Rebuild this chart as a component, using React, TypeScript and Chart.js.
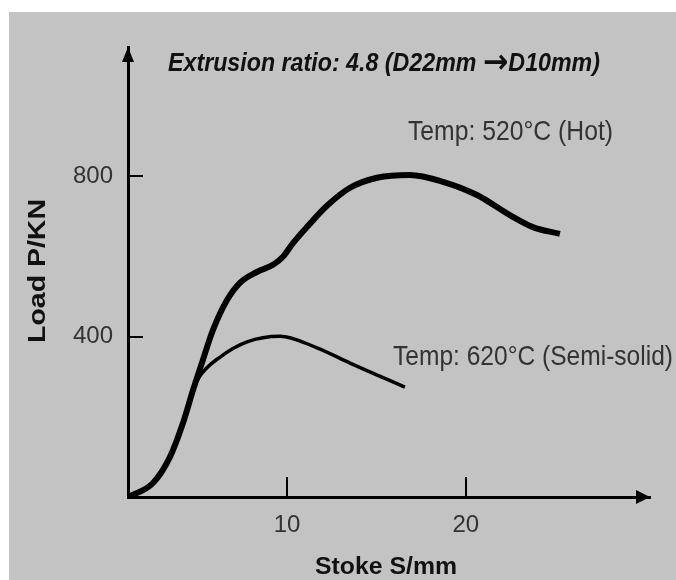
import React, { useEffect, useRef } from "react";
import { Chart, registerables } from "chart.js";

Chart.register(...registerables);

// ---- data ----
const strokeHot = [1.1, 2.5, 3.45, 4.18, 4.74, 5.29, 5.85, 6.64, 7.36, 8.31, 9.21, 9.77, 10.33, 11.11, 12.23, 13.52, 15.03, 16.87, 18.72, 20.62, 22.46, 23.75, 25.26];
const loadHot = [0, 35, 100, 185, 267, 342, 416, 491, 534, 561, 579, 599, 633, 673, 726, 771, 796, 803, 786, 753, 703, 673, 656];
const strokeSemi = [1.1, 2.5, 3.45, 4.18, 4.74, 5.13, 6.25, 7.76, 9.6, 11.67, 13.52, 16.59];
const loadSemi = [0, 35, 100, 185, 267, 302, 349, 387, 401, 372, 334, 274];
const xTicks = [10, 20];
const yTicks = [400, 800];
const xRange = [1.1, 30.3];
const yRange = [0, 1122];

const titleParts = ["Extrusion ratio: 4.8 (D22mm ", "\u2192", "D10mm)"];
const hotLabel = "Temp: 520\u00B0C (Hot)";
const semiLabel = "Temp: 620\u00B0C (Semi-solid)";
const xTitle = "Stoke S/mm";
const yTitle = "Load P/KN";

const SANS = '"Liberation Sans", Arial, sans-serif';

function fitText(
  ctx: CanvasRenderingContext2D,
  text: string,
  font: string,
  x: number,
  baseline: number,
  width: number,
  color: string,
  rotate = false
) {
  ctx.save();
  ctx.font = font;
  const w = ctx.measureText(text).width;
  ctx.translate(x, baseline);
  if (rotate) ctx.rotate(-Math.PI / 2);
  ctx.scale(width / w, 1);
  ctx.fillStyle = color;
  ctx.textAlign = "left";
  ctx.textBaseline = "alphabetic";
  ctx.fillText(text, 0, 0);
  ctx.restore();
}

function fitParts(
  ctx: CanvasRenderingContext2D,
  parts: string[],
  fonts: string[],
  dy: number[],
  x: number,
  baseline: number,
  width: number,
  color: string
) {
  ctx.save();
  const widths = parts.map((p, i) => {
    ctx.font = fonts[i];
    return ctx.measureText(p).width;
  });
  const total = widths.reduce((a, b) => a + b, 0);
  ctx.translate(x, baseline);
  ctx.scale(width / total, 1);
  ctx.fillStyle = color;
  ctx.textAlign = "left";
  ctx.textBaseline = "alphabetic";
  let cx = 0;
  parts.forEach((p, i) => {
    ctx.font = fonts[i];
    ctx.fillText(p, cx, dy[i]);
    cx += widths[i];
  });
  ctx.restore();
}

const decor = {
  id: "decor",
  beforeDraw(chart: any) {
    const ctx = chart.ctx as CanvasRenderingContext2D;
    ctx.save();
    ctx.fillStyle = "#ffffff";
    ctx.fillRect(0, 0, chart.width, chart.height);
    ctx.fillStyle = "#c3c3c3";
    ctx.fillRect(9, 12, chart.width - 9, chart.height - 12);
    ctx.restore();
  },
  afterDraw(chart: any) {
    const ctx = chart.ctx as CanvasRenderingContext2D;
    const ca = chart.chartArea;
    const xs = chart.scales.x;
    const ys = chart.scales.y;
    ctx.save();
    ctx.strokeStyle = "#000";
    ctx.lineWidth = 2;
    xTicks.forEach((v) => {
      const px = Math.round(xs.getPixelForValue(v));
      ctx.beginPath();
      ctx.moveTo(px, ca.bottom);
      ctx.lineTo(px, ca.bottom - 20);
      ctx.stroke();
    });
    yTicks.forEach((v) => {
      const py = Math.round(ys.getPixelForValue(v));
      ctx.beginPath();
      ctx.moveTo(ca.left, py);
      ctx.lineTo(ca.left + 15, py);
      ctx.stroke();
    });
    ctx.fillStyle = "#000";
    ctx.beginPath();
    ctx.moveTo(ca.left, ca.top);
    ctx.lineTo(ca.left - 6, ca.top + 15);
    ctx.lineTo(ca.left + 6, ca.top + 15);
    ctx.closePath();
    ctx.fill();
    ctx.beginPath();
    ctx.moveTo(ca.right, ca.bottom);
    ctx.lineTo(ca.right - 14, ca.bottom - 7);
    ctx.lineTo(ca.right - 14, ca.bottom + 7);
    ctx.closePath();
    ctx.fill();
    ctx.restore();

    fitParts(
      ctx,
      titleParts,
      ["italic bold 26px " + SANS, 'bold 34px "DejaVu Sans", sans-serif', "italic bold 26px " + SANS],
      [0, 2, 0],
      168,
      71,
      432,
      "#111"
    );
    fitText(ctx, hotLabel, "28px " + SANS, 408, 140, 205, "#333");
    fitText(ctx, semiLabel, "28px " + SANS, 393, 365, 280, "#333");
    fitText(ctx, xTitle, "bold 24px " + SANS, 315, 574, 142, "#111");
    fitText(ctx, yTitle, "bold 24px " + SANS, 45, 343, 144, "#111", true);
  },
};

export default function App() {
  const ref = useRef<HTMLCanvasElement | null>(null);
  useEffect(() => {
    if (!ref.current) return;
    const chart = new Chart(ref.current, {
      type: "line",
      data: {
        datasets: [
          {
            label: "Semi-solid",
            data: strokeSemi.map((x, i) => ({ x, y: loadSemi[i] })),
            borderColor: "#000",
            borderWidth: 3.5,
            pointRadius: 0,
            cubicInterpolationMode: "monotone",
            borderCapStyle: "butt",
            fill: false,
          },
          {
            label: "Hot",
            data: strokeHot.map((x, i) => ({ x, y: loadHot[i] })),
            borderColor: "#000",
            borderWidth: 6,
            pointRadius: 0,
            cubicInterpolationMode: "monotone",
            borderCapStyle: "butt",
            fill: false,
          },
        ],
      },
      options: {
        animation: false,
        responsive: false,
        devicePixelRatio: 1,
        layout: { padding: { left: 0, top: 47, right: 26, bottom: 0 } },
        plugins: { legend: { display: false }, tooltip: { enabled: false } },
        scales: {
          x: {
            type: "linear",
            min: xRange[0],
            max: xRange[1],
            grid: { display: false, drawTicks: false },
            border: { display: true, color: "#000", width: 3 },
            ticks: { font: { family: SANS, size: 24 }, color: "#333", padding: 14, autoSkip: false, maxRotation: 0 },
            afterBuildTicks: (s: any) => {
              s.ticks = xTicks.map((v) => ({ value: v }));
            },
            afterFit: (s: any) => {
              s.height = 83;
            },
          },
          y: {
            type: "linear",
            min: yRange[0],
            max: yRange[1],
            grid: { display: false, drawTicks: false },
            border: { display: true, color: "#000", width: 3 },
            ticks: { font: { family: SANS, size: 24 }, color: "#333", padding: 15, autoSkip: false },
            afterBuildTicks: (s: any) => {
              s.ticks = yTicks.map((v) => ({ value: v }));
            },
            afterFit: (s: any) => {
              s.width = 128;
            },
          },
        },
      },
      plugins: [decor],
    } as any);
    return () => chart.destroy();
  }, []);
  return (
    <div style={{ position: "absolute", left: 0, top: 0, width: 676, height: 580 }}>
      <canvas ref={ref} width={676} height={580} style={{ display: "block" }} />
    </div>
  );
}
